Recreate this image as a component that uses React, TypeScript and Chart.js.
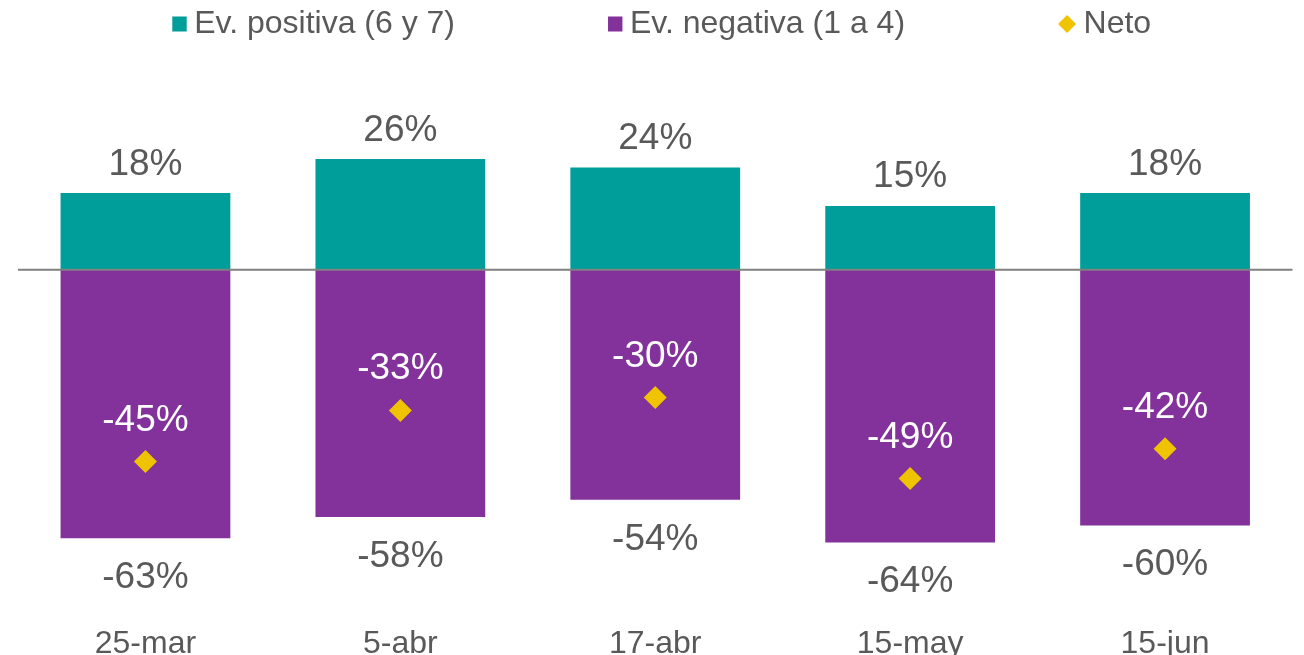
import React, { useEffect, useRef } from 'react';
import { Chart, registerables } from 'chart.js';

Chart.register(...registerables);

const categories = ['25-mar', '5-abr', '17-abr', '15-may', '15-jun'];
const positiva = [18, 26, 24, 15, 18];
const negativa = [-63, -58, -54, -64, -60];
const neto = [-45, -33, -30, -49, -42];
const seriesNames = ['Ev. positiva (6 y 7)', 'Ev. negativa (1 a 4)', 'Neto'];

const TEAL = '#009E9A';
const PURPLE = '#82329A';
const GOLD = '#F0C300';
const TEXT = '#595959';
const AXIS = '#808080';
const FONT = '"Liberation Sans", Arial, sans-serif';

const fmt = (v: number) => `${v}%`;

const labelsPlugin = {
  id: 'valueLabels',
  afterDatasetsDraw(chart: any) {
    const ctx = chart.ctx;
    const { left, right } = chart.chartArea;
    const y0 = chart.scales.y.getPixelForValue(0);
    ctx.save();
    ctx.strokeStyle = AXIS;
    ctx.lineWidth = 2;
    ctx.beginPath();
    ctx.moveTo(left, y0);
    ctx.lineTo(right, y0);
    ctx.stroke();

    ctx.font = `37px ${FONT}`;
    ctx.textAlign = 'center';
    ctx.textBaseline = 'alphabetic';
    const mPos = chart.getDatasetMeta(0);
    const mNeg = chart.getDatasetMeta(1);
    const mNet = chart.getDatasetMeta(2);
    ctx.fillStyle = TEXT;
    mPos.data.forEach((el: any, i: number) => {
      ctx.fillText(fmt(positiva[i]), el.x, el.y - 18.5);
    });
    mNeg.data.forEach((el: any, i: number) => {
      ctx.fillText(fmt(negativa[i]), el.x, el.y + 50);
    });
    ctx.fillStyle = '#FFFFFF';
    mNet.data.forEach((el: any, i: number) => {
      ctx.fillText(fmt(neto[i]), el.x, el.y - 31);
    });
    ctx.restore();
  },
};

const legendPlugin = {
  id: 'topLegend',
  afterDraw(chart: any) {
    const ctx = chart.ctx;
    ctx.save();
    ctx.font = `32px ${FONT}`;
    ctx.textAlign = 'left';
    ctx.textBaseline = 'alphabetic';
    const items = [
      { name: seriesNames[0], color: TEAL, shape: 'square' },
      { name: seriesNames[1], color: PURPLE, shape: 'square' },
      { name: seriesNames[2], color: GOLD, shape: 'diamond' },
    ];
    const cy = 24;
    const gap = 7.5;
    const spacing = 153;
    let x = 172.3;
    items.forEach((it) => {
      ctx.fillStyle = it.color;
      let symW = 14.4;
      if (it.shape === 'square') {
        ctx.fillRect(x, cy - 7.5, 14.4, 15);
      } else {
        symW = 18;
        ctx.beginPath();
        ctx.moveTo(x, cy);
        ctx.lineTo(x + 9, cy - 9);
        ctx.lineTo(x + 18, cy);
        ctx.lineTo(x + 9, cy + 9);
        ctx.closePath();
        ctx.fill();
      }
      const tx = x + symW + gap;
      ctx.fillStyle = TEXT;
      ctx.fillText(it.name, tx, 33);
      x = tx + ctx.measureText(it.name).width + spacing;
    });
    ctx.restore();
  },
};

export default function App() {
  const ref = useRef<HTMLCanvasElement | null>(null);

  useEffect(() => {
    if (!ref.current) return;
    const chart = new Chart(ref.current, {
      type: 'bar',
      data: {
        labels: categories,
        datasets: [
          {
            type: 'bar',
            label: seriesNames[0],
            data: positiva,
            backgroundColor: TEAL,
            borderWidth: 0,
            stack: 's',
            barPercentage: 0.666,
            categoryPercentage: 1,
          } as any,
          {
            type: 'bar',
            label: seriesNames[1],
            data: negativa,
            backgroundColor: PURPLE,
            borderWidth: 0,
            stack: 's',
            barPercentage: 0.666,
            categoryPercentage: 1,
          } as any,
          {
            type: 'line',
            label: seriesNames[2],
            data: neto,
            showLine: false,
            pointStyle: 'rectRot',
            pointRadius: 11.5,
            pointHoverRadius: 11.5,
            pointBackgroundColor: GOLD,
            pointBorderWidth: 0,
            borderWidth: 0,
            backgroundColor: GOLD,
            stack: 'neto',
            order: -1,
          } as any,
        ],
      },
      options: {
        responsive: false,
        animation: false,
        layout: { padding: { left: 18, right: 9, top: 142, bottom: 4 } },
        plugins: {
          legend: { display: false },
          tooltip: { enabled: false },
        },
        scales: {
          x: {
            stacked: true,
            grid: { display: false, drawTicks: false },
            border: { display: false },
            ticks: {
              color: TEXT,
              font: { family: FONT, size: 32 },
              padding: 14,
              maxRotation: 0,
            },
          },
          y: {
            display: false,
            stacked: true,
            min: -80,
            max: 30,
          },
        },
      },
      plugins: [labelsPlugin, legendPlugin],
    });
    return () => chart.destroy();
  }, []);

  return (
    <div
      style={{
        position: 'fixed',
        left: 0,
        top: 0,
        width: 1304,
        height: 655,
        overflow: 'hidden',
        background: '#FFFFFF',
      }}
    >
      <canvas
        ref={ref}
        width={1304}
        height={681}
        style={{ width: 1304, height: 681, display: 'block' }}
      />
    </div>
  );
}
